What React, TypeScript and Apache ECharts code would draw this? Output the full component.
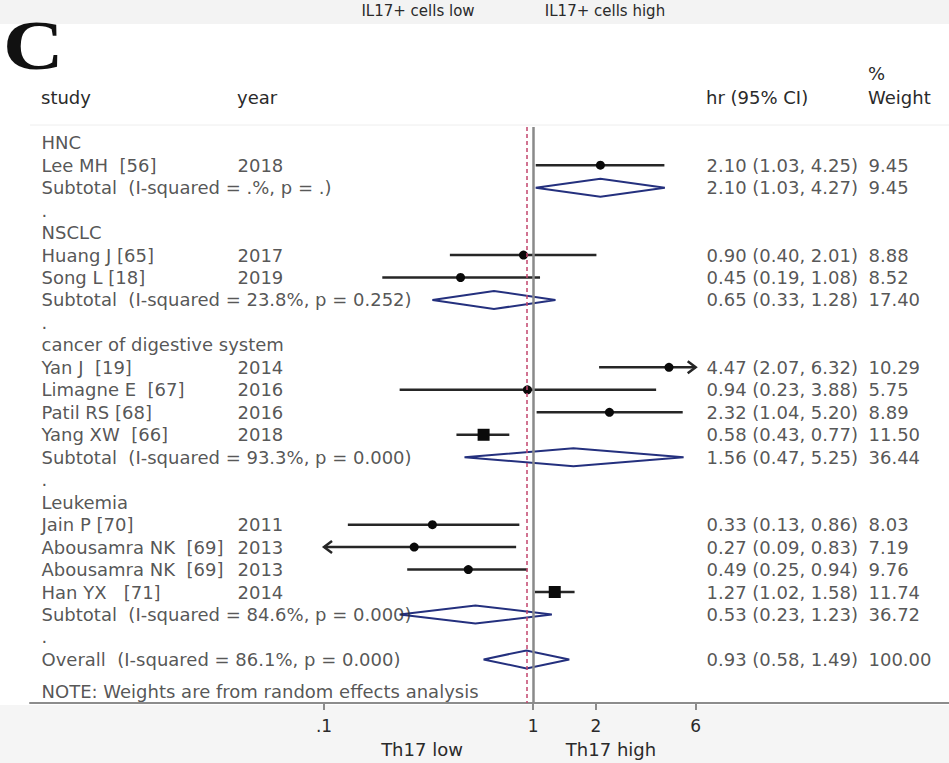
import React, { useEffect, useRef } from "react";
import * as echarts from "echarts";

// ---------- data ----------
const groups = ["HNC", "NSCLC", "cancer of digestive system", "Leukemia"];

const studyNames = [
  "Lee MH  [56]",
  "Huang J [65]",
  "Song L [18]",
  "Yan J  [19]",
  "Limagne E  [67]",
  "Patil RS [68]",
  "Yang XW  [66]",
  "Jain P [70]",
  "Abousamra NK  [69]",
  "Abousamra NK  [69]",
  "Han YX   [71]",
];
const studyGroup = [0, 1, 1, 2, 2, 2, 2, 3, 3, 3, 3];
const studyYears = ["2018", "2017", "2019", "2014", "2016", "2016", "2018", "2011", "2013", "2013", "2014"];
const studyHR = [2.1, 0.9, 0.45, 4.47, 0.94, 2.32, 0.58, 0.33, 0.27, 0.49, 1.27];
const studyLow = [1.03, 0.4, 0.19, 2.07, 0.23, 1.04, 0.43, 0.13, 0.09, 0.25, 1.02];
const studyHigh = [4.25, 2.01, 1.08, 6.32, 3.88, 5.2, 0.77, 0.86, 0.83, 0.94, 1.58];
const studyWeight = [9.45, 8.88, 8.52, 10.29, 5.75, 8.89, 11.5, 8.03, 7.19, 9.76, 11.74];

const subtotalLabels = [
  "Subtotal  (I-squared = .%, p = .)",
  "Subtotal  (I-squared = 23.8%, p = 0.252)",
  "Subtotal  (I-squared = 93.3%, p = 0.000)",
  "Subtotal  (I-squared = 84.6%, p = 0.000)",
];
const subtotalHR = [2.1, 0.65, 1.56, 0.53];
const subtotalLow = [1.03, 0.33, 0.47, 0.23];
const subtotalHigh = [4.27, 1.28, 5.25, 1.23];
const subtotalWeight = [9.45, 17.4, 36.44, 36.72];

const overallLabel = "Overall  (I-squared = 86.1%, p = 0.000)";
const overallHR = 0.93;
const overallLow = 0.58;
const overallHigh = 1.49;
const overallWeight = 100.0;

const noteText = "NOTE: Weights are from random effects analysis";

const tickValues = [0.1, 1, 2, 6];
const tickLabels = [".1", "1", "2", "6"];

// ---------- styling ----------
const FONT = "DejaVu Sans";
const TXT = "#2a2a2a";
const COL_STUDY = 41;
const COL_YEAR = 237;
const COL_CI = 706;
const COL_W = 868;

const lg = (v: number) => Math.log10(v);
const f2 = (v: number) => v.toFixed(2);
const ciText = (h: number, l: number, u: number) => `${f2(h)} (${f2(l)}, ${f2(u)})`;

export default function App() {
  const ref = useRef<HTMLDivElement>(null);

  useEffect(() => {
    if (!ref.current) return;
    const chart = echarts.init(ref.current, null, { renderer: "svg" });

    const labelRows: any[] = [];
    const yearRows: any[] = [];
    const ciRows: any[] = [];
    const wRows: any[] = [];
    const studyPts: any[] = [];
    const diamondPts: any[] = [];

    let row = 0;
    groups.forEach((g, gi) => {
      labelRows.push([COL_STUDY, row, g]);
      row++;
      studyNames.forEach((n, i) => {
        if (studyGroup[i] !== gi) return;
        labelRows.push([COL_STUDY, row, n]);
        yearRows.push([COL_YEAR, row, studyYears[i]]);
        ciRows.push([COL_CI, row, ciText(studyHR[i], studyLow[i], studyHigh[i])]);
        wRows.push([COL_W, row, f2(studyWeight[i])]);
        studyPts.push([lg(studyHR[i]), row, lg(studyLow[i]), lg(studyHigh[i]), studyWeight[i]]);
        row++;
      });
      labelRows.push([COL_STUDY, row, subtotalLabels[gi]]);
      ciRows.push([COL_CI, row, ciText(subtotalHR[gi], subtotalLow[gi], subtotalHigh[gi])]);
      wRows.push([COL_W, row, f2(subtotalWeight[gi])]);
      diamondPts.push([lg(subtotalHR[gi]), row, lg(subtotalLow[gi]), lg(subtotalHigh[gi])]);
      row++;
      labelRows.push([COL_STUDY, row, "."]);
      row++;
    });
    labelRows.push([COL_STUDY, row, overallLabel]);
    ciRows.push([COL_CI, row, ciText(overallHR, overallLow, overallHigh)]);
    wRows.push([COL_W, row, f2(overallWeight)]);
    diamondPts.push([lg(overallHR), row, lg(overallLow), lg(overallHigh)]);
    labelRows.push([COL_STUDY, row + 1.42, noteText]);

    const clipMin = lg(tickValues[0]);
    const clipMax = lg(tickValues[tickValues.length - 1]);
    const logTicks = tickValues.map(lg);
    const tickFmt = (v: number) => {
      let best = 0;
      logTicks.forEach((t, i) => {
        if (Math.abs(t - v) < Math.abs(logTicks[best] - v)) best = i;
      });
      return tickLabels[best];
    };

    const textSeries = (data: any[]) => ({
      type: "scatter",
      xAxisIndex: 1,
      yAxisIndex: 0,
      data,
      symbolSize: 1,
      clip: false,
      silent: true,
      itemStyle: { color: "rgba(0,0,0,0)" },
      label: {
        show: true,
        position: "right",
        distance: 0,
        formatter: (p: any) => p.data[2],
        fontFamily: FONT,
        fontSize: 18,
        color: TXT,
      },
      z: 5,
    });

    const option: any = {
      animation: false,
      backgroundColor: "#ffffff",
      grid: { left: 30, right: 0, top: 127, bottom: 60, containLabel: false },
      xAxis: [
        {
          type: "value",
          position: "bottom",
          min: -2.4067,
          max: 1.99,
          splitLine: { show: false },
          axisLine: { show: true, onZero: false, lineStyle: { color: "#8c8c8c", width: 2 } },
          axisTick: {
            show: true,
            customValues: logTicks,
            length: 7,
            lineStyle: { color: "#8c8c8c", width: 2 },
          },
          axisLabel: {
            show: true,
            customValues: logTicks,
            formatter: tickFmt,
            margin: 14,
            fontFamily: FONT,
            fontSize: 17,
            color: TXT,
          },
        },
        { type: "value", position: "top", min: 30, max: 949, show: false, axisLine: { onZero: false } },
      ],
      yAxis: {
        type: "value",
        inverse: true,
        min: -0.7,
        max: 24.94,
        show: false,
        axisLine: { onZero: false },
      },
      graphic: [
        { type: "rect", z: -10, shape: { x: 0, y: 0, width: 949, height: 24 }, style: { fill: "#f3f3f3" } },
        { type: "rect", z: -10, shape: { x: 0, y: 705, width: 949, height: 58 }, style: { fill: "#f5f5f5" } },
        { type: "line", z: -5, shape: { x1: 30, y1: 125, x2: 949, y2: 125 }, style: { stroke: "#eeeeee", lineWidth: 1 } },
        {
          type: "text",
          x: 3,
          y: 45,
          scaleX: 1.2,
          style: { text: "C", fontFamily: "Liberation Serif", fontWeight: "bold", fontSize: 70, fill: "#111", align: "left", verticalAlign: "middle" },
        },
        { type: "text", x: 418, y: 11, style: { text: "IL17+ cells low", fontFamily: FONT, fontSize: 15, fill: TXT, align: "center", verticalAlign: "middle" } },
        { type: "text", x: 605, y: 11, style: { text: "IL17+ cells high", fontFamily: FONT, fontSize: 15, fill: TXT, align: "center", verticalAlign: "middle" } },
        { type: "text", x: COL_STUDY, y: 97, style: { text: "study", fontFamily: FONT, fontSize: 18, fill: TXT, align: "left", verticalAlign: "middle" } },
        { type: "text", x: COL_YEAR, y: 97, style: { text: "year", fontFamily: FONT, fontSize: 18, fill: TXT, align: "left", verticalAlign: "middle" } },
        { type: "text", x: COL_CI, y: 97, style: { text: "hr (95% CI)", fontFamily: FONT, fontSize: 18, fill: TXT, align: "left", verticalAlign: "middle" } },
        { type: "text", x: COL_W, y: 73, style: { text: "%", fontFamily: FONT, fontSize: 18, fill: TXT, align: "left", verticalAlign: "middle" } },
        { type: "text", x: COL_W, y: 97, style: { text: "Weight", fontFamily: FONT, fontSize: 18, fill: TXT, align: "left", verticalAlign: "middle" } },
        { type: "text", x: 422, y: 749, style: { text: "Th17 low", fontFamily: FONT, fontSize: 18, fill: TXT, align: "center", verticalAlign: "middle" } },
        { type: "text", x: 611, y: 749, style: { text: "Th17 high", fontFamily: FONT, fontSize: 18, fill: TXT, align: "center", verticalAlign: "middle" } },
      ],
      series: [
        {
          type: "custom",
          name: "diamonds",
          xAxisIndex: 0,
          yAxisIndex: 0,
          data: diamondPts,
          z: 3,
          renderItem: (params: any, api: any) => {
            const est = api.value(0);
            const r = api.value(1);
            const lo = api.value(2);
            const hi = api.value(3);
            const pl = api.coord([lo, r]);
            const pe = api.coord([est, r]);
            const ph = api.coord([hi, r]);
            const h = 9;
            return {
              type: "polygon",
              shape: { points: [[pl[0], pl[1]], [pe[0], pe[1] - h], [ph[0], ph[1]], [pe[0], pe[1] + h]] },
              style: { fill: "#ffffff", stroke: "#24307e", lineWidth: 2 },
            };
          },
          markLine: {
            silent: true,
            symbol: "none",
            label: { show: false },
            data: [
              { xAxis: 0, lineStyle: { color: "#8a8a8a", width: 2.5, type: "solid" } },
              { xAxis: lg(overallHR), lineStyle: { color: "#c2456e", width: 1.5, type: [4, 3] } },
            ],
          },
        },
        {
          type: "custom",
          name: "studies",
          xAxisIndex: 0,
          yAxisIndex: 0,
          data: studyPts,
          z: 4,
          renderItem: (params: any, api: any) => {
            const est = api.value(0);
            const r = api.value(1);
            const lo = api.value(2);
            const hi = api.value(3);
            const w = api.value(4);
            const a = api.coord([Math.max(lo, clipMin), r]);
            const b = api.coord([Math.min(hi, clipMax), r]);
            const pe = api.coord([est, r]);
            const stroke = "#262626";
            const children: any[] = [
              { type: "line", shape: { x1: a[0], y1: a[1], x2: b[0], y2: b[1] }, style: { stroke, lineWidth: 2.5 } },
            ];
            if (lo < clipMin) {
              children.push({
                type: "polyline",
                shape: { points: [[a[0] + 8, a[1] - 6], [a[0], a[1]], [a[0] + 8, a[1] + 6]] },
                style: { stroke, lineWidth: 2.5, fill: "none" },
              });
            }
            if (hi > clipMax) {
              children.push({
                type: "polyline",
                shape: { points: [[b[0] - 8, b[1] - 6], [b[0], b[1]], [b[0] - 8, b[1] + 6]] },
                style: { stroke, lineWidth: 2.5, fill: "none" },
              });
            }
            if (w >= 11) {
              children.push({ type: "rect", shape: { x: pe[0] - 6, y: pe[1] - 6, width: 12, height: 12 }, style: { fill: "#0a0a0a" } });
            } else {
              children.push({ type: "circle", shape: { cx: pe[0], cy: pe[1], r: 4.5 }, style: { fill: "#0a0a0a" } });
            }
            return { type: "group", children };
          },
        },
        textSeries(labelRows),
        textSeries(yearRows),
        textSeries(ciRows),
        textSeries(wRows),
      ],
    };

    chart.setOption(option);
    return () => chart.dispose();
  }, []);

  return (
    <div
      ref={ref}
      style={{ position: "fixed", left: 0, top: 0, width: 949, height: 763, background: "#fff" }}
    />
  );
}
